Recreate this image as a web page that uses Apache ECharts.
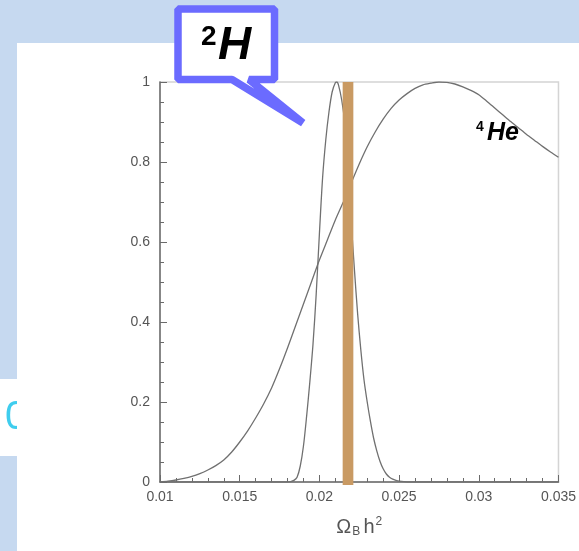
<!DOCTYPE html>
<html>
<head>
<meta charset="utf-8">
<title>BBN likelihoods</title>
<script src="https://cdn.jsdelivr.net/npm/echarts@6.0.0/dist/echarts.min.js"></script>
<style>
  html, body { margin: 0; padding: 0; background: #ffffff; }
  #chart { width: 579px; height: 551px; }
</style>
</head>
<body>
<div id="chart"></div>
<script>
// Baryon density axis (Omega_B h^2) and tick labels
const xTickLabels = ['0.01', '0.015', '0.02', '0.025', '0.03', '0.035'];
const yTickLabels = ['0', '0.2', '0.4', '0.6', '0.8', '1'];

// Helium-4 likelihood, sampled in Omega_B h^2
const heX = [0.0100, 0.0105, 0.0110, 0.0115, 0.0120, 0.0125, 0.0130, 0.0135, 0.0140, 0.0145,
             0.0150, 0.0155, 0.0160, 0.0165, 0.0170, 0.0175, 0.0180, 0.0185, 0.0190, 0.0195,
             0.0200, 0.0205, 0.0210, 0.0215, 0.0220, 0.0225, 0.0230, 0.0235, 0.0240, 0.0245,
             0.0250, 0.0255, 0.0260, 0.0265, 0.0270, 0.0275, 0.0280, 0.0285, 0.0290, 0.0295,
             0.0300, 0.0305, 0.0310, 0.0315, 0.0320, 0.0325, 0.0330, 0.0335, 0.0340, 0.0345, 0.0350];
const heY = [0.000, 0.002, 0.005, 0.009, 0.014, 0.021, 0.030, 0.041, 0.055, 0.075,
             0.100, 0.128, 0.160, 0.195, 0.235, 0.283, 0.335, 0.390, 0.445, 0.500,
             0.555, 0.605, 0.655, 0.700, 0.748, 0.795, 0.838, 0.875, 0.907, 0.934,
             0.955, 0.971, 0.984, 0.993, 0.997, 1.000, 0.999, 0.995, 0.988, 0.979,
             0.968, 0.952, 0.935, 0.918, 0.901, 0.885, 0.869, 0.854, 0.839, 0.825, 0.812];

// Deuterium likelihood
const dX = [0.0100, 0.0180, 0.0182, 0.0184, 0.0186, 0.0188, 0.0190, 0.0192, 0.0194, 0.0196,
            0.0198, 0.0200, 0.0202, 0.0204, 0.0206, 0.0208, 0.0210, 0.0211, 0.0212, 0.0214,
            0.0216, 0.0218, 0.0220, 0.0222, 0.0224, 0.0226, 0.0228, 0.0230, 0.0232, 0.0234,
            0.0236, 0.0238, 0.0240, 0.0242, 0.0244, 0.0246, 0.0248, 0.0250, 0.0255, 0.0350];
const dY = [0.000, 0.000, 0.001, 0.004, 0.012, 0.040, 0.090, 0.165, 0.250, 0.345,
            0.470, 0.620, 0.760, 0.855, 0.925, 0.975, 0.998, 1.000, 0.992, 0.955,
            0.895, 0.800, 0.650, 0.530, 0.420, 0.330, 0.255, 0.200, 0.152, 0.110,
            0.078, 0.052, 0.033, 0.020, 0.012, 0.007, 0.004, 0.002, 0.000, 0.000];

// CMB-preferred baryon density band
const bandLo = [0.02146];
const bandHi = [0.02213];

const pairs = (xs, ys) => xs.map((x, i) => [x, ys[i]]);

const chart = echarts.init(document.getElementById('chart'), null, { renderer: 'canvas' });

const axisGray = '#6a6a6a';
const labelGray = '#555555';
const font = 'Liberation Sans, Arial, Helvetica, sans-serif';

chart.setOption({
  animation: false,
  backgroundColor: '#ffffff',
  grid: {
    left: 160, right: 19, top: 82, bottom: 69,
    show: true, borderColor: '#d4d4d4', borderWidth: 1.5, backgroundColor: 'transparent'
  },
  xAxis: {
    type: 'value', min: 0.01, max: 0.035, interval: 0.005,
    axisLine: { show: true, onZero: false, lineStyle: { color: axisGray, width: 1.5 } },
    axisTick: { show: true, inside: true, length: 7, lineStyle: { color: axisGray, width: 1 } },
    minorTick: { show: true, splitNumber: 5, length: 4, lineStyle: { color: axisGray, width: 1 } },
    splitLine: { show: false },
    axisLabel: {
      color: labelGray, fontSize: 14, fontFamily: font, margin: 8,
      formatter: v => xTickLabels[Math.round((v - 0.01) / 0.005)]
    },
    name: '{a|Ω}{s|B} {a|h}{p|2}',
    nameLocation: 'middle',
    nameGap: 34,
    nameTextStyle: {
      color: labelGray, fontFamily: font,
      rich: {
        a: { fontSize: 20, color: labelGray, fontFamily: font },
        s: { fontSize: 12, color: labelGray, fontFamily: font, padding: [9, 0, 0, 1] },
        p: { fontSize: 12, color: labelGray, fontFamily: font, padding: [0, 0, 10, 1] }
      }
    }
  },
  yAxis: {
    type: 'value', min: 0, max: 1, interval: 0.2,
    axisLine: { show: true, onZero: false, lineStyle: { color: axisGray, width: 1.5 } },
    axisTick: { show: true, inside: true, length: 7, lineStyle: { color: axisGray, width: 1 } },
    minorTick: { show: true, splitNumber: 4, length: 4, lineStyle: { color: axisGray, width: 1 } },
    splitLine: { show: false },
    axisLabel: {
      color: labelGray, fontSize: 14, fontFamily: font, margin: 10,
      formatter: v => yTickLabels[Math.round(v / 0.2)]
    }
  },
  series: [
    {
      name: 'He4', type: 'line', data: pairs(heX, heY), showSymbol: false, symbol: 'none',
      smooth: 0.25, lineStyle: { color: '#707070', width: 1.3 }, z: 2
    },
    {
      name: 'D', type: 'line', data: pairs(dX, dY), showSymbol: false, symbol: 'none',
      smooth: 0.3, lineStyle: { color: '#707070', width: 1.3 }, z: 2
    },
    {
      name: 'band', type: 'custom', z: 5,
      data: bandLo.map((lo, i) => [lo, bandHi[i]]),
      renderItem: (params, api) => {
        const p0 = api.coord([api.value(0), 1]);
        const p1 = api.coord([api.value(1), 0]);
        return {
          type: 'rect',
          shape: { x: p0[0], y: p0[1], width: p1[0] - p0[0], height: p1[1] - p0[1] + 3 },
          style: { fill: '#c99a63' }
        };
      }
    }
  ],
  graphic: [
    // slide background pieces
    { type: 'rect', z: -10, silent: true, shape: { x: 0, y: 0, width: 579, height: 43 }, style: { fill: '#c6d9f0' } },
    { type: 'rect', z: -10, silent: true, shape: { x: 0, y: 43, width: 17, height: 336 }, style: { fill: '#c6d9f0' } },
    { type: 'rect', z: -10, silent: true, shape: { x: 0, y: 456, width: 17, height: 95 }, style: { fill: '#c6d9f0' } },
    { type: 'text', z: -9, silent: true, left: 5, top: 398,
      style: { text: '0', fill: '#3fcdee', font: '40px ' + font } },
    { type: 'rect', z: -8, silent: true, shape: { x: 17, y: 43, width: 562, height: 508 }, style: { fill: '#ffffff' } },
    // 2H callout
    { type: 'polygon', z: 20, silent: true,
      shape: { points: [[178, 9], [274.5, 9], [274.5, 79.5], [249, 79.5], [303, 123], [232, 79.5], [178, 79.5]] },
      style: { fill: '#ffffff', stroke: '#6b6bff', lineWidth: 7.5, lineJoin: 'bevel' } },
    { type: 'text', z: 21, silent: true, x: 201, y: 23,
      style: { text: '2', fill: '#000', font: 'bold 28px ' + font, verticalAlign: 'top' } },
    { type: 'text', z: 21, silent: true, x: 218, y: 23,
      style: { text: 'H', fill: '#000', font: 'italic bold 46px ' + font, verticalAlign: 'top' } },
    // 4He label
    { type: 'text', z: 21, silent: true, x: 476, y: 120,
      style: { text: '4', fill: '#000', font: 'bold 14px ' + font, verticalAlign: 'top' } },
    { type: 'text', z: 21, silent: true, x: 487, y: 121,
      style: { text: 'He', fill: '#000', font: 'italic bold 25px ' + font, verticalAlign: 'top' } }
  ]
});
</script>
</body>
</html>
